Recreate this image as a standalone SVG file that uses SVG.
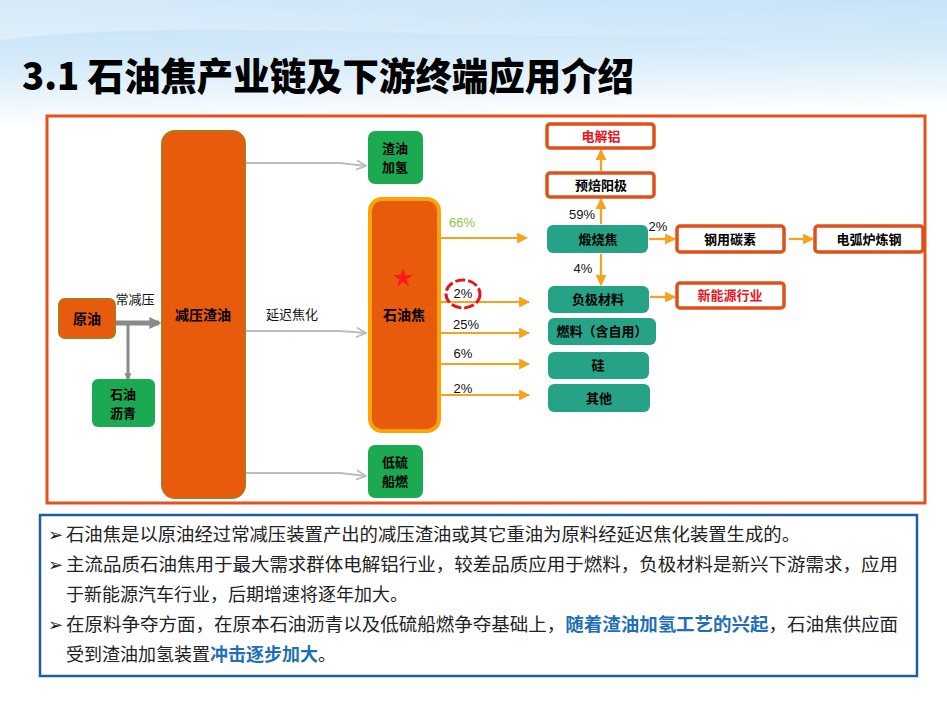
<svg xmlns="http://www.w3.org/2000/svg" width="947" height="710" viewBox="0 0 947 710">
<defs>
<linearGradient id="sky" x1="0" y1="0" x2="0.15" y2="1">
<stop offset="0" stop-color="#C0DFF7"/>
<stop offset="0.55" stop-color="#D8ECFA"/>
<stop offset="1" stop-color="#FFFFFF"/>
</linearGradient>
<linearGradient id="swoosh" x1="0" y1="0" x2="1" y2="0">
<stop offset="0" stop-color="#FFFFFF" stop-opacity="0.7"/>
<stop offset="1" stop-color="#FFFFFF" stop-opacity="0"/>
</linearGradient>
<marker id="ao" viewBox="0 0 10 10" refX="9" refY="5" markerWidth="5" markerHeight="5" orient="auto" markerUnits="strokeWidth">
<path d="M0,0 L10,5 L0,10 z" fill="#F7A21B"/>
</marker>
<marker id="ag" viewBox="0 0 10 10" refX="9" refY="5" markerWidth="6" markerHeight="6" orient="auto" markerUnits="strokeWidth">
<path d="M1,1 L9,5 L1,9" fill="none" stroke="#BDBDBD" stroke-width="1.5"/>
</marker>
<marker id="ad" viewBox="0 0 10 10" refX="8" refY="5" markerWidth="2.4" markerHeight="2.4" orient="auto" markerUnits="strokeWidth">
<path d="M0,0 L10,5 L0,10 z" fill="#8A8A8A"/>
</marker>
<style>
.t{font-family:"Noto Sans CJK SC","Liberation Sans",sans-serif;font-weight:bold;fill:#000;text-anchor:middle}
.n{font-size:14px}
.s{font-size:13px}
.p{font-family:"Liberation Sans","Noto Sans CJK SC",sans-serif;font-size:13px;fill:#111;text-anchor:middle}
.or{fill:#E85A0C;stroke:#B8741A;stroke-width:2}
.gr{fill:#1BAA52}
.tl{fill:#26A386}
.wb{fill:#FFFFFF;stroke:#E0501A;stroke-width:3.5}
.oa{stroke:#F7A21B;stroke-width:2.2;fill:none;marker-end:url(#ao)}
.ga{stroke:#BDBDBD;stroke-width:2;fill:none;marker-end:url(#ag)}
.body{font-family:"Noto Sans CJK SC","Liberation Sans",sans-serif;font-size:18px;fill:#222}
.hl{fill:#1F6FB8;font-weight:bold}
</style>
</defs>
<rect x="0" y="0" width="947" height="710" fill="#FFFFFF"/>
<rect x="0" y="0" width="947" height="125" fill="url(#sky)"/>
<path d="M0,40 C250,10 600,60 947,20 L947,0 L0,0 z" fill="url(#swoosh)" opacity="0.5"/>
<text x="22" y="90" font-family="Noto Sans CJK SC,Liberation Sans,sans-serif" font-size="38" font-weight="900" fill="#000" textLength="612" lengthAdjust="spacingAndGlyphs">3.1 石油焦产业链及下游终端应用介绍</text>

<rect x="47" y="116" width="878" height="387" fill="#FFFFFF" stroke="#E8501A" stroke-width="3"/>

<g id="connectors">
<line x1="115" y1="323" x2="159" y2="323" stroke="#8A8A8A" stroke-width="5" marker-end="url(#ad)"/>
<line x1="128" y1="323" x2="128" y2="379" stroke="#8A8A8A" stroke-width="3" marker-end="url(#ad)"/>
<path class="ga" d="M246,163 L340,163 L366,166"/>
<path class="ga" d="M246,331 L340,331 L366,333"/>
<path class="ga" d="M246,473 L340,473 L366,476"/>
<path class="oa" d="M441,238 L527,238"/>
<path class="oa" d="M441,302 L529,302"/>
<path class="oa" d="M441,333 L529,333"/>
<path class="oa" d="M441,364 L529,364"/>
<path class="oa" d="M441,395 L529,395"/>
<path class="oa" d="M601,224 L601,199"/>
<path class="oa" d="M601,171 L601,150"/>
<path class="oa" d="M601,254 L601,285"/>
<path class="oa" d="M649,239 L675,239"/>
<path class="oa" d="M789,239 L813,239"/>
<path class="oa" d="M650,297 L675,297"/>
</g>

<g id="n-yuanyou"><rect class="or" x="59" y="299" width="56" height="39" rx="6"/><text class="t n" x="87" y="324">原油</text></g>
<g id="n-liqing"><rect class="gr" x="92" y="379" width="63" height="48" rx="6"/><text class="t s" x="123" y="399">石油</text><text class="t s" x="123" y="418">沥青</text></g>
<g id="n-zhayou"><rect class="or" x="162" y="131" width="83" height="367" rx="13"/><text class="t n" x="203" y="320">减压渣油</text></g>
<text x="135" y="304" font-family="Noto Sans CJK SC,sans-serif" font-size="13" fill="#111" text-anchor="middle">常减压</text>
<text x="292" y="319" font-family="Noto Sans CJK SC,sans-serif" font-size="13" fill="#111" text-anchor="middle">延迟焦化</text>
<g id="n-jiaqing"><rect class="gr" x="368" y="131" width="55" height="53" rx="7"/><text class="t s" x="395" y="153">渣油</text><text class="t s" x="395" y="172">加氢</text></g>
<g id="n-chuanran"><rect class="gr" x="368" y="445" width="55" height="53" rx="7"/><text class="t s" x="395" y="467">低硫</text><text class="t s" x="395" y="486">船燃</text></g>
<g id="n-shiyoujiao"><rect x="370" y="199" width="69" height="232" rx="12" fill="#E85A0C" stroke="#FFA20A" stroke-width="4"/>
<path d="M403,268 L405.4,275 L412.8,275 L406.8,279.4 L409.1,286.5 L403,282.1 L396.9,286.5 L399.2,279.4 L393.2,275 L400.6,275 z" fill="#FF1A1A"/>
<text class="t n" x="404" y="320">石油焦</text></g>

<g id="n-dianjielv"><rect class="wb" x="547" y="124" width="107" height="24" rx="3"/><text class="t s" x="601" y="141" style="fill:#E8141E">电解铝</text></g>
<g id="n-yanji"><rect class="wb" x="547" y="173" width="107" height="24" rx="3"/><text class="t s" x="601" y="190">预焙阳极</text></g>
<g id="n-duanshao"><rect class="tl" x="547" y="225" width="101" height="28" rx="6"/><text class="t s" x="598" y="244">煅烧焦</text></g>
<g id="n-tansu"><rect class="wb" x="677" y="226" width="107" height="26" rx="3"/><text class="t s" x="730" y="244">钢用碳素</text></g>
<g id="n-lianggang"><rect class="wb" x="815" y="226" width="108" height="26" rx="3"/><text class="t s" x="869" y="244">电弧炉炼钢</text></g>
<g id="n-fuji"><rect class="tl" x="548" y="286" width="101" height="27" rx="6"/><text class="t s" x="598" y="304">负极材料</text></g>
<g id="n-xinneng"><rect class="wb" x="677" y="283" width="107" height="25" rx="3"/><text class="t s" x="730" y="300" style="fill:#E8141E">新能源行业</text></g>
<g id="n-ranliao"><rect class="tl" x="548" y="318" width="108" height="27" rx="6"/><text class="t s" x="602" y="336">燃料（含自用）</text></g>
<g id="n-gui"><rect class="tl" x="548" y="352" width="101" height="27" rx="6"/><text class="t s" x="598" y="370">硅</text></g>
<g id="n-qita"><rect class="tl" x="548" y="384" width="102" height="28" rx="6"/><text class="t s" x="599" y="403">其他</text></g>

<g id="labels">
<text class="p" x="462" y="227" style="fill:#8DC63F">66%</text>
<ellipse cx="463" cy="294" rx="17" ry="14" fill="none" stroke="#E8141E" stroke-width="3" stroke-dasharray="10,3"/>
<text class="p" x="463" y="298">2%</text>
<text class="p" x="466" y="329">25%</text>
<text class="p" x="463" y="358">6%</text>
<text class="p" x="463" y="393">2%</text>
<text class="p" x="582" y="219">59%</text>
<text class="p" x="583" y="273">4%</text>
<text class="p" x="658" y="231">2%</text>
</g>

<g id="notes">
<rect x="40" y="515" width="877" height="161" fill="#FFFFFF" stroke="#1F5FA0" stroke-width="2.5"/>
<text class="body" x="48" y="541">➢</text>
<text class="body" x="66" y="541" textLength="734" lengthAdjust="spacingAndGlyphs">石油焦是以原油经过常减压装置产出的减压渣油或其它重油为原料经延迟焦化装置生成的。</text>
<text class="body" x="48" y="571">➢</text>
<text class="body" x="66" y="571" textLength="832" lengthAdjust="spacingAndGlyphs">主流品质石油焦用于最大需求群体电解铝行业，较差品质应用于燃料，负极材料是新兴下游需求，应用</text>
<text class="body" x="66" y="601">于新能源汽车行业，后期增速将逐年加大。</text>
<text class="body" x="48" y="631">➢</text>
<text class="body" x="66" y="631" textLength="832" lengthAdjust="spacingAndGlyphs">在原料争夺方面，在原本石油沥青以及低硫船燃争夺基础上，<tspan class="hl">随着渣油加氢工艺的兴起</tspan>，石油焦供应面</text>
<text class="body" x="66" y="661">受到渣油加氢装置<tspan class="hl">冲击逐步加大</tspan>。</text>
</g>
</svg>
